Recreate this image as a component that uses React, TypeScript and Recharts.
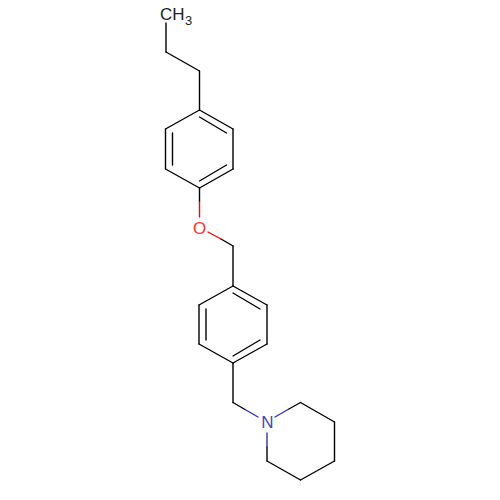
import { ComposedChart, Line, Scatter, XAxis, YAxis } from "recharts"

// each bond piece is [x1, y1, x2, y2] in picture units
const blackBonds = [
  [166, 23, 166, 52],
  [166, 52, 199.5, 71],
  [199.5, 71, 199.5, 110],
  // upper ring
  [199.5, 110, 233, 129],
  [233, 129, 233, 169],
  [233, 169, 199.5, 188],
  [199.5, 188, 165.5, 169],
  [165.5, 169, 165.5, 129],
  [165.5, 129, 199.5, 110],
  [199.5, 117, 226.5, 133],
  [199.5, 181, 226.5, 165],
  [172.5, 133, 172.5, 165],
  // linker
  [199.5, 188, 199.5, 202],
  [221, 239, 233, 246],
  [233, 246, 233, 286],
  // lower ring
  [233, 286, 267, 305],
  [267, 305, 267, 344],
  [267, 344, 233, 363],
  [233, 363, 199, 344],
  [199, 344, 199, 305],
  [199, 305, 233, 286],
  [233, 293, 260, 309],
  [233, 356, 260, 340],
  [206, 309, 206, 340],
  // to the piperidine
  [233, 363, 233, 402.5],
  [233, 402.5, 245, 409.5],
  // piperidine
  [288, 409.5, 300.5, 402.5],
  [300.5, 402.5, 334.5, 422],
  [334.5, 422, 334.5, 461],
  [334.5, 461, 300.5, 480],
  [300.5, 480, 267, 461],
  [267, 461, 267, 447],
]
const redBonds = [
  [199.5, 202, 199.5, 217],
  [208, 232, 221, 239],
]
const blueBonds = [
  [245, 409.5, 258, 417],
  [275, 417, 288, 409.5],
  [267, 447, 267, 433],
]

const atomNames = ["O", "N"]
const atomX = [199.5, 267.5]
const atomY = [227.5, 422]
const atomColors = ["#FF3030", "#4545B8"]

const methylX = 160
const methylY = 13

const atoms = atomNames.map((name, i) => ({
  x: atomX[i],
  y: atomY[i],
  name,
  color: atomColors[i],
}))

function toPoints(b: number[]) {
  return [
    { x: b[0], y: b[1] },
    { x: b[2], y: b[3] },
  ]
}

function AtomLabel(props: any) {
  return (
    <text
      x={props.cx}
      y={props.cy}
      dy="0.36em"
      textAnchor="middle"
      fontFamily="Liberation Sans"
      fontSize={17}
      fill={props.payload.color}
    >
      {props.payload.name}
    </text>
  )
}

function MethylLabel(props: any) {
  return (
    <text x={props.cx} y={props.cy + 7} fontFamily="Liberation Sans" fontSize={17} fill="#222">
      CH
      <tspan fontSize={13} dy={5} dx={0.5}>
        3
      </tspan>
    </text>
  )
}

export default function App() {
  const renderBonds = (list: number[][], color: string, key: string) =>
    list.map((b, i) => (
      <Line
        key={key + i}
        data={toPoints(b)}
        dataKey="y"
        stroke={color}
        strokeWidth={1.4}
        strokeLinecap="round"
        dot={false}
        activeDot={false}
        legendType="none"
        isAnimationActive={false}
      />
    ))

  return (
    <div style={{ position: "absolute", left: 0, top: 0, width: 500, height: 500, background: "#fff" }}>
      <ComposedChart width={500} height={500} margin={{ top: 0, right: 0, bottom: 0, left: 0 }}>
        <XAxis type="number" dataKey="x" domain={[0, 500]} hide allowDataOverflow />
        <YAxis type="number" dataKey="y" domain={[0, 500]} reversed hide allowDataOverflow />
        {renderBonds(blackBonds, "#000", "k")}
        {renderBonds(redBonds, "#FF0000", "r")}
        {renderBonds(blueBonds, "#3333B3", "b")}
        <Scatter data={atoms} dataKey="y" shape={AtomLabel} isAnimationActive={false} />
        <Scatter
          data={[{ x: methylX, y: methylY }]}
          dataKey="y"
          shape={MethylLabel}
          isAnimationActive={false}
        />
      </ComposedChart>
    </div>
  )
}
